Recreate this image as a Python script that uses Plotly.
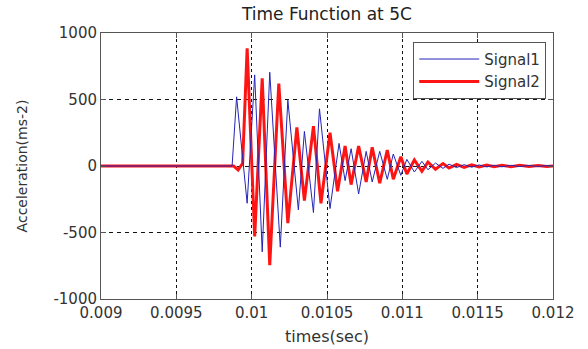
import plotly.graph_objects as go

# Signal2 (red) – extremes
red_t = [0.009, 0.00988, 0.00991, 0.00994, 0.00997, 0.01002, 0.01007, 0.01012, 0.01018, 0.01024,
         0.01030, 0.01035, 0.01041, 0.01046, 0.01052, 0.01057, 0.01062, 0.01066, 0.01071, 0.01076,
         0.01080, 0.01085, 0.01090, 0.01094, 0.01099, 0.01103, 0.01108, 0.01113, 0.01117, 0.01122,
         0.01127, 0.01131, 0.01136, 0.01141, 0.01146, 0.01151, 0.01156, 0.01161, 0.01166, 0.01172,
         0.01178, 0.01184, 0.01190, 0.01196, 0.012]
red_v = [0, 0, -30, 20, 885, -530, 660, -745, 620, -430,
         290, -260, 300, -280, 250, -190, 150, -140, 150, -120,
         140, -130, 120, -100, 70, -60, 45, -40, 30, -25,
         18, -15, 12, -10, 9, -8, 7, -6, 6, -5,
         5, -4, 4, -3, 0]

# Signal1 (blue)
blue_t = [0.009, 0.00987, 0.00990, 0.00997, 0.01002, 0.01007, 0.01012, 0.01019, 0.01024, 0.01031,
          0.01035, 0.01041, 0.01045, 0.01052, 0.01058, 0.01062, 0.01066, 0.01071, 0.01076, 0.01080,
          0.01085, 0.01090, 0.01094, 0.01099, 0.01103, 0.01108, 0.01113, 0.01117, 0.01122, 0.01127,
          0.01131, 0.01136, 0.01141, 0.01146, 0.01151, 0.01156, 0.01161, 0.01166, 0.01172, 0.01178,
          0.01184, 0.01190, 0.01196, 0.012]
blue_v = [0, 0, 520, -280, 685, -645, 705, -610, 495, -330,
          260, -350, 430, -320, 170, -110, 130, -210, 110, -120,
          110, -100, 90, -70, 50, -45, 35, -28, 22, -18,
          14, -12, 10, -9, 8, -7, 6, -6, 5, -4,
          4, -3, 3, 0]

x_ticks = [0.009, 0.0095, 0.01, 0.0105, 0.011, 0.0115, 0.012]
x_labels = ["0.009", "0.0095", "0.01", "0.0105", "0.011", "0.0115", "0.012"]
y_ticks = [-1000, -500, 0, 500, 1000]
y_labels = ["-1000", "-500", "0", "500", "1000"]

FONT = "DejaVu Sans"

fig = go.Figure()
fig.add_trace(go.Scatter(x=red_t, y=red_v, mode="lines", name="Signal2",
                         line=dict(color="#ff1414", width=3), legendrank=2))
fig.add_trace(go.Scatter(x=blue_t, y=blue_v, mode="lines", name="Signal1",
                         line=dict(color="#2424b8", width=1), legendrank=1))

axis_common = dict(showline=True, mirror="ticks", linecolor="#555555", linewidth=1,
                   ticks="inside", ticklen=5, tickcolor="#555555",
                   showgrid=True, gridcolor="#111111", gridwidth=1, zeroline=False,
                   automargin=False,
                   tickfont=dict(family=FONT, size=15, color="#333333"))

fig.update_xaxes(range=[0.009, 0.012], tickvals=x_ticks, ticktext=x_labels,
                 griddash="dot",
                 title=dict(text="times(sec)", font=dict(family=FONT, size=16, color="#333333"),
                            standoff=9),
                 **axis_common)
fig.update_yaxes(range=[-1000, 1000], tickvals=y_ticks, ticktext=y_labels,
                 griddash="4px,4px",
                 title=dict(text="Acceleration(ms-2)", font=dict(family=FONT, size=14, color="#333333"),
                            standoff=22),
                 **axis_common)

fig.update_layout(
    width=588, height=349,
    margin=dict(l=101, r=35, t=33, b=50),
    paper_bgcolor="white", plot_bgcolor="white",
    title=dict(text="Time Function at 5C", x=0.556, xanchor="center", y=0.96, yanchor="middle",
               font=dict(family=FONT, size=17, color="#222222")),
    showlegend=True,
    legend=dict(x=0.985, y=0.967, xanchor="right", yanchor="top",
                bgcolor="white", bordercolor="#555555", borderwidth=1,
                font=dict(family=FONT, size=15, color="#333333"),
                itemwidth=60, tracegroupgap=0),
)

fig.write_html("out.html")
